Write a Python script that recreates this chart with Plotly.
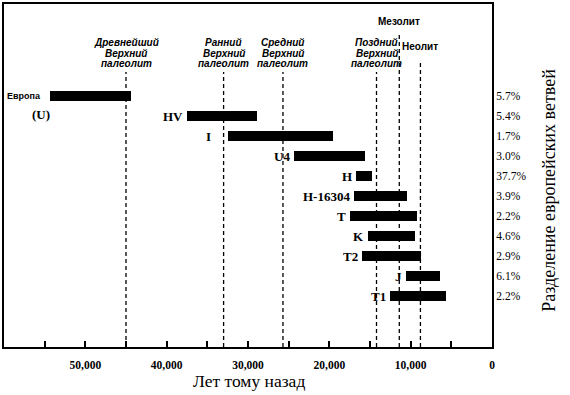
import plotly.graph_objects as go

# ---- data ----
groups = ["Европа", "HV", "I", "U4", "H", "H-16304", "T", "K", "T2", "J", "T1"]
start_years = [54300, 37500, 32400, 24400, 16700, 17000, 17500, 15300, 16000, 10600, 12600]
end_years = [44400, 28900, 19600, 15600, 14700, 10400, 9200, 9500, 8700, 6400, 5700]
shares = ["5.7%", "5.4%", "1.7%", "3.0%", "37.7%", "3.9%", "2.2%", "4.6%", "2.9%", "6.1%", "2.2%"]

period_labels = [
    ["Древнейший", "Верхний", "палеолит"],
    ["Ранний", "Верхний", "палеолит"],
    ["Средний", "Верхний", "палеолит"],
    ["Поздний", "Верхний", "палеолит"],
    ["Мезолит"],
    ["Неолит"],
]
period_years = [45000, 33000, 25700, 14200, 11400, 8800]

x_ticks = [50000, 40000, 30000, 20000, 10000, 0]
x_tick_text = ["50,000", "40,000", "30,000", "20,000", "10,000", "0"]

# ---- layout constants (pixels) ----
W, H = 570, 395
L, R, T, B = 2, 78, 4, 48
plot_h = H - T - B
row0_px, row_step = 96, 20


def py_to_paper(ypx):
    return (H - B - ypx) / plot_h


rows = list(range(len(groups)))
y_top = (T - row0_px) / row_step
y_bot = (H - B - row0_px) / row_step

SERIF = "Liberation Serif, Times New Roman, serif"
SANS = "Liberation Sans, Arial, sans-serif"

fig = go.Figure()
fig.add_trace(go.Bar(
    orientation="h",
    y=rows,
    base=end_years,
    x=[s - e for s, e in zip(start_years, end_years)],
    marker=dict(color="black", line=dict(width=0)),
    width=0.5,
    hoverinfo="skip",
    showlegend=False,
))

shapes = []
line_tops_px = [72, 72, 72, 72, 33, 60]
for yr, top in zip(period_years, line_tops_px):
    shapes.append(dict(type="line", xref="x", yref="paper", x0=yr, x1=yr,
                       y0=0, y1=py_to_paper(top),
                       line=dict(color="black", width=1.3, dash="4px,3px")))

annotations = []
# period labels
for lbls, yr in zip(period_labels, period_years):
    if len(lbls) == 3:
        ys = [43, 53.5, 63.5]
        fmt = "<b><i>{}</i></b>"
    elif lbls[0] == "Мезолит":
        ys = [21]
        fmt = "<b>{}</b>"
    else:
        ys = [46]
        fmt = "<b>{}</b>"
    for t, ypx in zip(lbls, ys):
        annotations.append(dict(x=yr, xref="x", y=py_to_paper(ypx), yref="paper",
                                text=fmt.format(t), showarrow=False,
                                xanchor="center", yanchor="middle",
                                font=dict(family=SANS, size=10, color="black")))

# bar labels
for i, (g, s) in enumerate(zip(groups, start_years)):
    if g == "Европа":
        font = dict(family=SANS, size=9, color="black")
        shift = -7
    else:
        font = dict(family=SERIF, size=13, color="black")
        shift = -15 if g == "I" else -2
    annotations.append(dict(x=s, xref="x", y=i, yref="y", text="<b>%s</b>" % g,
                            showarrow=False, xanchor="right", yanchor="middle",
                            xshift=shift, font=font))

annotations.append(dict(x=55500, xref="x", y=0.9, yref="y", text="<b>(U)</b>",
                        showarrow=False, xanchor="center", yanchor="middle",
                        font=dict(family=SERIF, size=13, color="black")))

# axis titles
annotations.append(dict(x=(248 - L) / (W - L - R), xref="paper", y=py_to_paper(381), yref="paper",
                        text="Лет тому назад", showarrow=False, xanchor="center", yanchor="middle",
                        font=dict(family=SERIF, size=17.5, color="black")))
annotations.append(dict(x=(549 - L) / (W - L - R), xref="paper", y=py_to_paper(190), yref="paper",
                        text="Разделение европейских ветвей", textangle=-90, showarrow=False,
                        xanchor="center", yanchor="middle",
                        font=dict(family=SERIF, size=18, color="black")))

fig.update_layout(
    width=W, height=H,
    margin=dict(l=L, r=R, t=T, b=B, pad=0),
    paper_bgcolor="white", plot_bgcolor="white",
    shapes=shapes, annotations=annotations,
    xaxis=dict(range=[60000, 0], tickvals=x_ticks, ticktext=["<b>%s</b>" % t for t in x_tick_text],
               ticks="inside", ticklen=6, tickwidth=1.5, tickcolor="black",
               minor=dict(dtick=5000, tick0=0, ticks="inside", ticklen=6, tickwidth=1.5, tickcolor="black"),
               showline=True, linecolor="black", linewidth=2, mirror=True,
               showgrid=False, zeroline=False,
               tickfont=dict(family=SERIF, size=11.5, color="black"),
               ticklabelstandoff=6),
    yaxis=dict(range=[y_bot, y_top], side="right", tickvals=rows, ticktext=shares,
               ticks="", showline=True, linecolor="black", linewidth=2, mirror=True,
               showgrid=False, zeroline=False,
               tickfont=dict(family=SERIF, size=11.5, color="black")),
    bargap=0,
)

fig.write_html("out.html",
               config={"displayModeBar": False},
               post_script="document.body.style.margin='0';document.body.style.overflow='hidden';")
